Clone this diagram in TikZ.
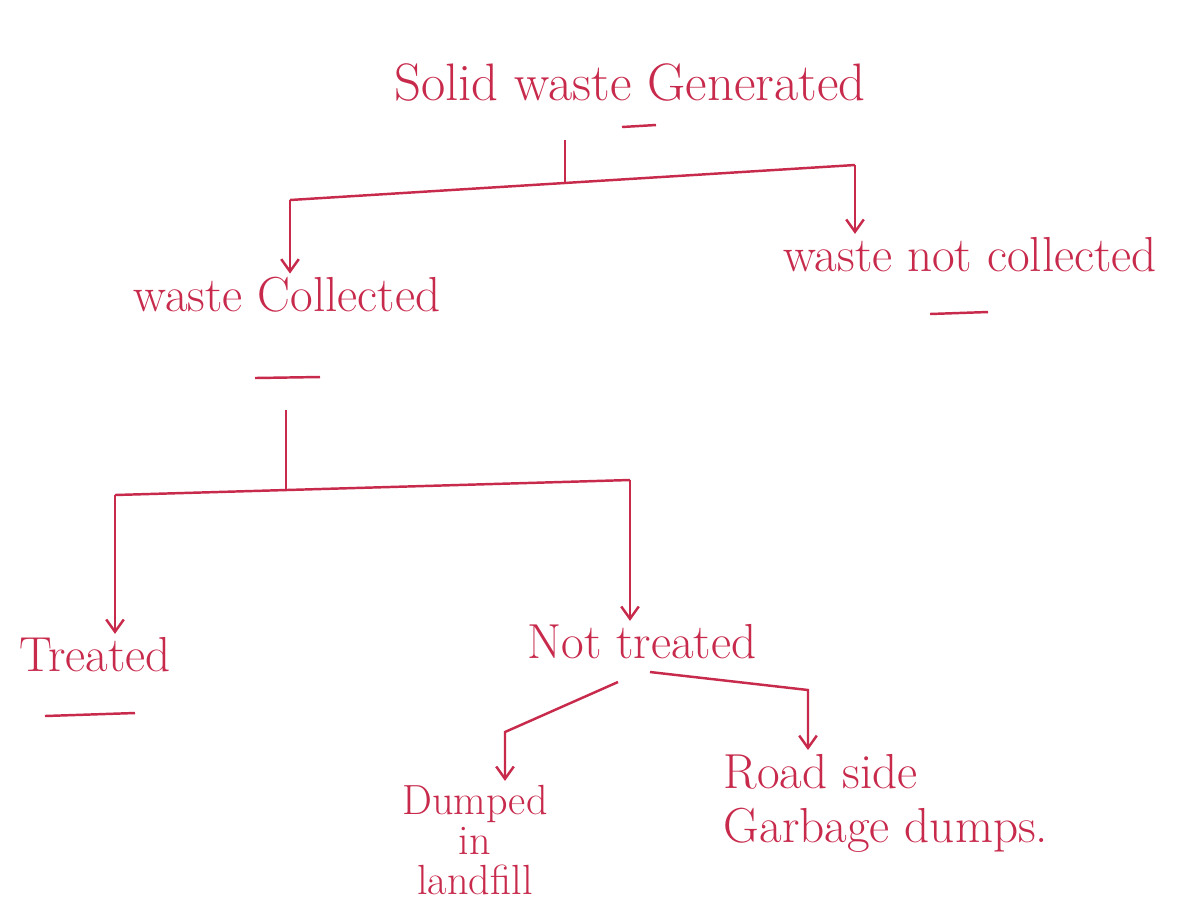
\documentclass[tikz,border=0pt]{standalone}
\usepackage{tikz}
\usetikzlibrary{arrows.meta}
\definecolor{ink}{HTML}{C82A4C}

\begin{document}
\begin{tikzpicture}[scale=2,
    txt/.style={color=ink, inner sep=2pt, font=\fontsize{28}{26}\selectfont},
    link/.style={color=ink, line width=1.4pt},
    arr/.style={link, -{Straight Barb[length=7pt,width=10pt]}}]
    \useasboundingbox[fill=white] (0,0) rectangle (11.91,-9.23);

    \node at (6.3,-0.82) (gen) [txt, font=\fontsize{30}{30}\selectfont] {Solid waste Generated};
    \node at (2.87,-2.95) (wc) [txt] {waste Collected};
    \node at (9.7,-2.55) (wnc) [txt] {waste not collected};
    \node at (0.95,-6.55) (tr) [txt] {Treated};
    \node at (6.42,-6.42) (nt) [txt] {Not treated};
    \node at (4.75,-8.4) (dl) [txt, align=center, font=\fontsize{24}{23}\selectfont] {Dumped\\in\\landfill};
    \node at (7.2,-7.5) (rd) [txt, anchor=north west, align=left, font=\fontsize{28}{31}\selectfont] {Road side\\Garbage dumps.};

    % top level
    \coordinate (s1top) at (5.65,-1.4);
    \coordinate (s1) at (5.65,-1.82);
    \coordinate (l1) at (2.9,-2.0);
    \coordinate (r1) at (8.55,-1.65);
    \draw[link] (s1top) -- (s1);
    \draw[link] (l1) -- (r1);
    \draw[arr] (l1) -- (l1 |- wc.north);
    \draw[arr] (r1) -- (r1 |- wnc.north);

    % collected
    \coordinate (s2top) at (2.86,-4.1);
    \coordinate (s2) at (2.86,-4.9);
    \coordinate (l2) at (1.15,-4.95);
    \coordinate (r2) at (6.3,-4.8);
    \draw[link] (s2top) -- (s2);
    \draw[link] (l2) -- (r2);
    \draw[arr] (l2) -- (l2 |- tr.north);
    \draw[arr] (r2) -- (r2 |- nt.north);

    % not treated
    \coordinate (nt1) at (6.18,-6.82);
    \coordinate (nt2) at (6.5,-6.72);
    \coordinate (l3) at (5.05,-7.32);
    \coordinate (r3) at (8.08,-6.9);
    \draw[arr] (nt1) -- (l3) -- (l3 |- dl.north);
    \draw[arr] (nt2) -- (r3) -- (r3 |- rd.north);

    % underlines
    \draw[link] (6.22,-1.27) -- (6.56,-1.25);
    \draw[link] (2.55,-3.78) -- (3.2,-3.77);
    \draw[link] (9.3,-3.14) -- (9.88,-3.12);
    \draw[link] (0.45,-7.16) -- (1.35,-7.13);
\end{tikzpicture}
\end{document}
